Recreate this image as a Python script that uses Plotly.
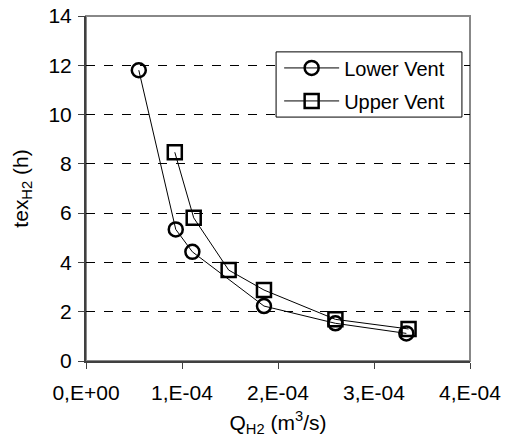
import plotly.graph_objects as go

lower_x = [5.5e-5, 9.35e-5, 1.108e-4, 1.854e-4, 2.598e-4, 3.337e-4]
lower_y = [11.8, 5.34, 4.43, 2.23, 1.53, 1.12]
upper_x = [9.25e-5, 1.122e-4, 1.486e-4, 1.854e-4, 2.598e-4, 3.36e-4]
upper_y = [8.47, 5.81, 3.69, 2.88, 1.69, 1.30]
x_tickvals = [0, 1e-4, 2e-4, 3e-4, 4e-4]
x_ticktext = ["0,E+00", "1,E-04", "2,E-04", "3,E-04", "4,E-04"]
y_tickvals = [0, 2, 4, 6, 8, 10, 12, 14]

FONT = "Liberation Sans, Arial, sans-serif"

fig = go.Figure()
fig.add_trace(go.Scatter(
    x=lower_x, y=lower_y, mode="lines+markers", name="Lower Vent",
    legendgroup="a",
    line=dict(color="black", width=1),
    marker=dict(symbol="circle", size=14, color="rgba(0,0,0,0)",
                line=dict(color="black", width=2.5)),
))
fig.add_trace(go.Scatter(
    x=upper_x, y=upper_y, mode="lines+markers", name="Upper Vent",
    legendgroup="b",
    line=dict(color="black", width=1),
    marker=dict(symbol="square", size=14, color="rgba(0,0,0,0)",
                line=dict(color="black", width=2.5)),
))

# grey plot-area frame
fig.add_shape(type="rect", xref="paper", yref="paper", x0=0, y0=0, x1=1, y1=1,
              line=dict(color="#888888", width=2), layer="below")
# legend box
fig.add_shape(type="rect", xref="paper", yref="paper", x0=0.495, x1=0.979,
              y0=0.707, y1=0.896, line=dict(color="black", width=1),
              fillcolor="white", layer="above")

fig.update_layout(
    width=510, height=439,
    margin=dict(l=86, r=40, t=16, b=78),
    paper_bgcolor="white", plot_bgcolor="white",
    font=dict(family=FONT, size=21, color="black"),
    showlegend=True,
    legend=dict(x=0.503, y=0.906, xanchor="left", yanchor="top",
                borderwidth=0, bgcolor="rgba(0,0,0,0)",
                font=dict(size=20), tracegroupgap=4, traceorder="grouped",
                itemwidth=55),
    xaxis=dict(
        range=[0, 4e-4], tickvals=x_tickvals, ticktext=x_ticktext,
        showgrid=False, zeroline=False, automargin=False,
        showline=True, linecolor="#404040", linewidth=2,
        ticks="outside", ticklen=6, tickwidth=1, tickcolor="#404040",
        tickfont=dict(size=21), ticklabelstandoff=6,
        title=dict(text="Q<sub>H2</sub> (m<sup>3</sup>/s)", font=dict(size=21), standoff=12),
    ),
    yaxis=dict(
        range=[0, 14], tickvals=y_tickvals,
        showgrid=True, gridcolor="black", gridwidth=1, griddash="dash",
        zeroline=False, automargin=False,
        showline=True, linecolor="#404040", linewidth=2,
        ticks="outside", ticklen=6, tickwidth=1, tickcolor="#404040",
        tickfont=dict(size=21), ticklabelstandoff=2,
        title=dict(text="tex<sub>H2</sub> (h)", font=dict(size=21), standoff=14),
    ),
)

fig.write_html("out.html")
